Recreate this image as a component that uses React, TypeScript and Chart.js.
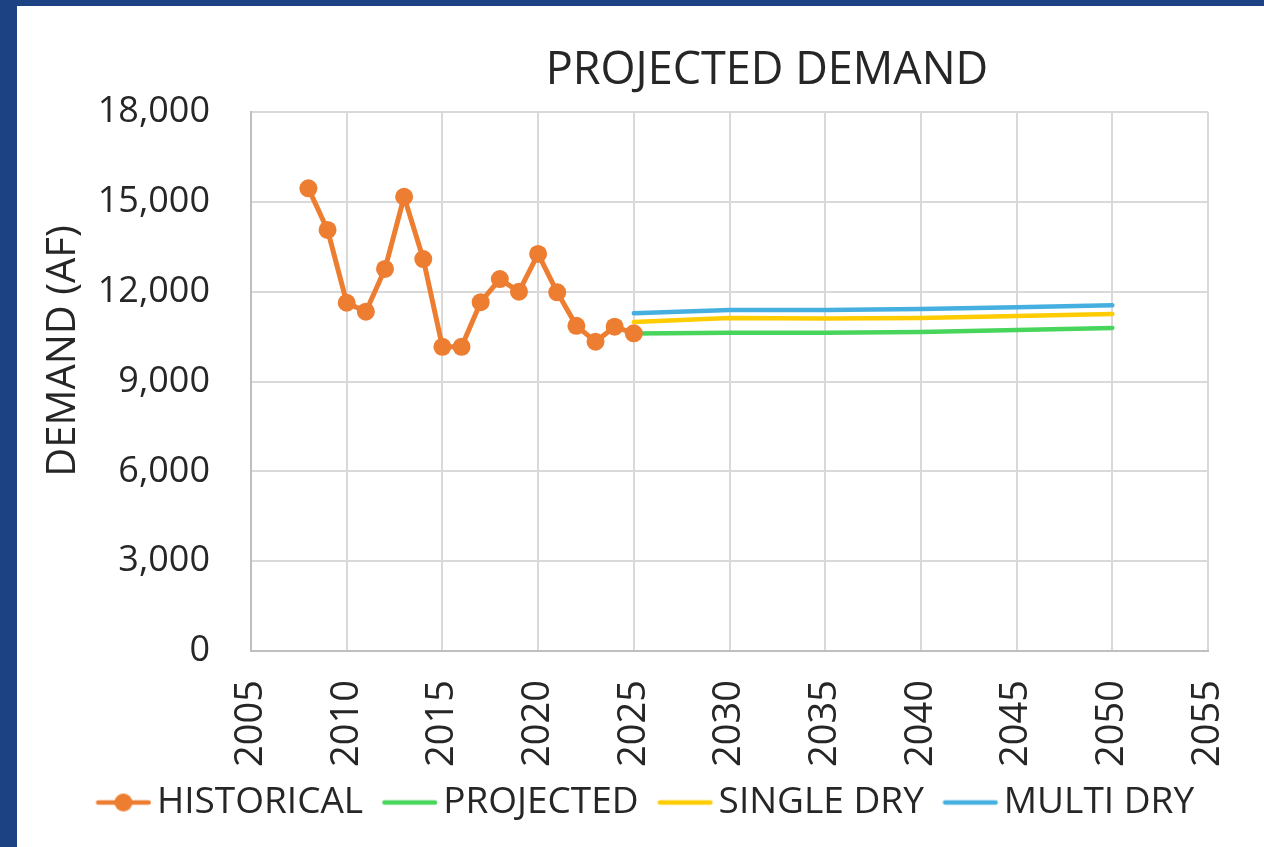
import { useEffect, useRef } from "react";
import { Chart, registerables } from "chart.js";

Chart.register(...registerables);

const chartTitle = "PROJECTED DEMAND";
const yAxisTitle = "DEMAND (AF)";

const seriesNames = ["HISTORICAL", "PROJECTED", "SINGLE DRY", "MULTI DRY"];
const seriesColors = ["#ED7D31", "#48D55B", "#FFCC00", "#45AFE0"];

const histYears = [2008, 2009, 2010, 2011, 2012, 2013, 2014, 2015, 2016, 2017, 2018, 2019, 2020, 2021, 2022, 2023, 2024, 2025];
const historical = [15450, 14060, 11630, 11330, 12760, 15170, 13090, 10160, 10160, 11650, 12420, 12000, 13260, 11980, 10860, 10330, 10830, 10610];

const projYears = [2025, 2030, 2035, 2040, 2045, 2050];
const projected = [10600, 10630, 10630, 10650, 10720, 10790];
const singleDry = [10990, 11120, 11100, 11120, 11190, 11255];
const multiDry = [11280, 11390, 11390, 11420, 11480, 11545];

const xMin = 2005;
const xMax = 2055;
const xStep = 5;
const yMin = 0;
const yMax = 18000;
const yStep = 3000;

const TEXT = "#262626";
const GRID = "#d9d9d9";
const AXIS = "#bfbfbf";
const FONT = "'Open Sans'";

function legendImage(color: string, withDot: boolean) {
  const c = document.createElement("canvas");
  c.width = 80;
  c.height = 20;
  const g = c.getContext("2d")!;
  g.strokeStyle = color;
  g.lineWidth = 4.5;
  g.lineCap = "round";
  g.beginPath();
  g.moveTo(25.5, 10);
  g.lineTo(76, 10);
  g.stroke();
  if (withDot) {
    g.fillStyle = color;
    g.beginPath();
    g.arc(50.75, 10, 9, 0, Math.PI * 2);
    g.fill();
  }
  return c;
}

const textPlugin = {
  id: "extraTexts",
  afterDraw(chart: any) {
    const ctx = chart.ctx as CanvasRenderingContext2D;
    ctx.save();
    ctx.fillStyle = TEXT;
    ctx.textAlign = "center";
    ctx.textBaseline = "alphabetic";
    ctx.font = `45px ${FONT}`;
    ctx.fillText(chartTitle, 750, 78);
    ctx.translate(58, 345);
    ctx.rotate(-Math.PI / 2);
    ctx.font = `40px ${FONT}`;
    ctx.fillText(yAxisTitle, 0, 0);
    ctx.restore();
  },
};

export default function App() {
  const ref = useRef<HTMLCanvasElement | null>(null);

  useEffect(() => {
    if (!ref.current) return;
    const images = seriesColors.map((c, i) => legendImage(c, i === 0));
    const toPts = (xs: number[], ys: number[]) => xs.map((x, i) => ({ x, y: ys[i] }));
    const projSeries = [projected, singleDry, multiDry];

    const chart = new Chart(ref.current, {
      type: "line",
      data: {
        datasets: [
          {
            label: seriesNames[0],
            data: toPts(histYears, historical),
            borderColor: seriesColors[0],
            backgroundColor: seriesColors[0],
            borderWidth: 5,
            pointRadius: 9,
            pointBorderWidth: 0,
            pointBackgroundColor: seriesColors[0],
            borderCapStyle: "round",
            borderJoinStyle: "round",
            order: 0,
          },
          ...projSeries.map((vals, i) => ({
            label: seriesNames[i + 1],
            data: toPts(projYears, vals),
            borderColor: seriesColors[i + 1],
            backgroundColor: seriesColors[i + 1],
            borderWidth: 4.5,
            pointRadius: 0,
            borderCapStyle: "round" as const,
            borderJoinStyle: "round" as const,
            order: 1,
          })),
        ],
      },
      options: {
        responsive: false,
        animation: false,
        devicePixelRatio: 1,
        layout: { padding: { top: 106, left: 0, right: 0, bottom: 16 } },
        font: { family: FONT },
        plugins: {
          title: { display: false },
          tooltip: { enabled: false },
          legend: {
            display: true,
            position: "bottom",
            labels: {
              usePointStyle: true,
              pointStyleWidth: 51.5,
              padding: 10,
              color: TEXT,
              font: { family: FONT, size: 37 },
              generateLabels: () =>
                seriesNames.map((name, i) => ({
                  text: name,
                  fillStyle: seriesColors[i],
                  strokeStyle: seriesColors[i],
                  lineWidth: 0,
                  pointStyle: images[i] as any,
                  hidden: false,
                  datasetIndex: i,
                  fontColor: TEXT,
                })),
            },
          },
        },
        scales: {
          x: {
            type: "linear",
            position: "bottom",
            min: xMin,
            max: xMax,
            afterFit: (s: any) => {
              s.height = 123;
              s.paddingLeft = 0;
              s.paddingRight = 0;
            },
            grid: { color: GRID, lineWidth: 2, drawTicks: false },
            border: { color: AXIS, width: 2 },
            ticks: {
              stepSize: xStep,
              autoSkip: false,
              minRotation: 90,
              maxRotation: 90,
              padding: 29,
              color: TEXT,
              font: { family: FONT, size: 38 },
              callback: (v: any) => String(v),
            },
          },
          y: {
            type: "linear",
            position: "left",
            min: yMin,
            max: yMax,
            afterFit: (s: any) => {
              s.width = 234;
            },
            grid: { color: GRID, lineWidth: 2, drawTicks: false },
            border: { color: AXIS, width: 2 },
            ticks: {
              stepSize: yStep,
              padding: 41,
              color: TEXT,
              font: { family: FONT, size: 36 },
              callback: (v: any) => Number(v).toLocaleString("en-US"),
            },
          },
          yRight: {
            type: "linear",
            position: "right",
            display: true,
            afterFit: (s: any) => {
              s.width = 56;
            },
            grid: { display: false, drawTicks: false },
            border: { display: false },
            ticks: { display: false },
          },
        },
      },
      plugins: [textPlugin],
    } as any);
    return () => chart.destroy();
  }, []);

  return (
    <div style={{ position: "fixed", inset: 0, background: "#1d4283" }}>
      <div style={{ position: "absolute", left: 17, top: 6, right: 0, bottom: 0, background: "#ffffff" }}>
        <canvas ref={ref} width={1247} height={841} style={{ display: "block" }} />
      </div>
    </div>
  );
}
